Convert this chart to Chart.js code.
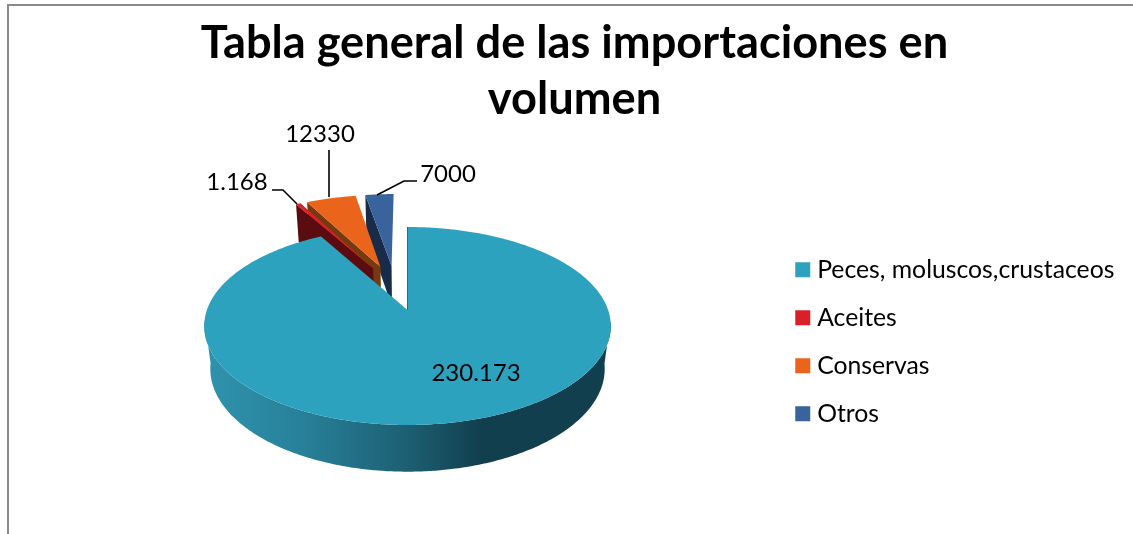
<!DOCTYPE html>
<html><head><meta charset="utf-8">
<style>html,body{margin:0;padding:0;background:#fff}canvas{display:block}</style>
<script src="https://cdn.jsdelivr.net/npm/chart.js@4"></script>
</head><body><canvas id="c" width="1133" height="534"></canvas>
<script>
const categories = ["Peces, moluscos,crustaceos", "Aceites", "Conservas", "Otros"];
const values = [230173, 1168, 12330, 7000];
const valueLabels = ["230.173", "1.168", "12330", "7000"];
const titleLines = ["Tabla general de las importaciones en", "volumen"];
const topColors = ["#2DA2BF", "#DA1F28", "#EB641B", "#39639D"];
const sideColors = ["#123F4E", "#5A0C10", "#753B0E", "#182C4A"];

const FONT = 'Lato, "Open Sans", sans-serif';
const P = {cx:407.5, cy:310, R:200.6, a:96.4, k:-0.1616, b:44, m:0.03, E:0.251};
function proj(u,v,z){const d=1+P.k*v+P.m*z;return [P.cx+P.R*u/d, P.cy+(P.a*v+P.b*z)/d];}
const theta = a => a+Math.PI/2;
const dir = t => [Math.sin(t), -Math.cos(t)];

function pathPts(ctx,pts){ctx.beginPath();pts.forEach((p,i)=>i?ctx.lineTo(p[0],p[1]):ctx.moveTo(p[0],p[1]));ctx.closePath();}

const pie3d = {
  id:'pie3d',
  afterLayout(chart){
    const l = chart.legend;
    const w = l.width;
    l.left = 777.5; l.right = l.left+w;
    l.top = 234; l.bottom = l.top+l.height;
  },
  beforeDraw(chart){
    const ctx = chart.ctx;
    ctx.save();
    ctx.fillStyle = '#8A8A8A';
    ctx.fillRect(7,4,1126,2);
    ctx.fillRect(7,4,2,530);
    ctx.restore();
  },
  beforeDatasetsDraw(chart){
    const ctx = chart.ctx;
    const arcs = chart.getDatasetMeta(0).data;
    const mid = e => (theta(e.startAngle)+theta(e.endAngle))/2;
    const main = dir(mid(arcs[0]));
    const slices = arcs.map((e,i)=>{
      const d = dir(mid(e));
      const o = i===0 ? [0,0] : [P.E*(d[0]-main[0]), P.E*(d[1]-main[1])];
      return {i, t0:theta(e.startAngle), t1:theta(e.endAngle), o};
    });
    const ring = (s,z,vMin)=>{
      const pts=[], n=Math.max(4,Math.ceil((s.t1-s.t0)/0.01));
      for(let j=0;j<=n;j++){
        const t=s.t0+(s.t1-s.t0)*j/n, d=dir(t);
        if(vMin===undefined || d[1]>=vMin) pts.push(proj(s.o[0]+d[0],s.o[1]+d[1],z));
      }
      return pts;
    };
    ctx.save();
    [3,2,1,0].forEach(idx=>{
      const s = slices[idx];
      let side = sideColors[idx];
      if(idx===0){
        const g = ctx.createLinearGradient(206,0,610,0);
        g.addColorStop(0,'#2F93AE');g.addColorStop(0.25,'#277F98');
        g.addColorStop(0.5,'#1C5F72');g.addColorStop(0.68,'#123F4E');g.addColorStop(1,'#123F4E');
        side = g;
      }
      ctx.fillStyle = side;
      // front-facing part of the outer wall
      const w0 = ring(s,0,0.1), w1 = ring(s,1,0.1);
      if(w0.length>1){ pathPts(ctx,w0.concat(w1.slice().reverse())); ctx.fill(); }
      // radial wall at the slice start
      const d0 = dir(s.t0);
      pathPts(ctx,[proj(s.o[0],s.o[1],0),proj(s.o[0]+d0[0],s.o[1]+d0[1],0),
                   proj(s.o[0]+d0[0],s.o[1]+d0[1],1),proj(s.o[0],s.o[1],1)]);
      ctx.fill();
      if(idx===0){ctx.strokeStyle='#123F4E';ctx.lineWidth=1;ctx.stroke();}
      // top face
      ctx.fillStyle = topColors[idx];
      pathPts(ctx,[proj(s.o[0],s.o[1],0)].concat(ring(s,0))); ctx.fill();
    });
    ctx.restore();
    return false;
  },
  afterDraw(chart){
    const ctx = chart.ctx;
    ctx.save();
    ctx.strokeStyle='#000';ctx.lineWidth=1.6;ctx.lineJoin='miter';
    [[[272,190],[283,190],[297,204]],
     [[329,150],[329,197]],
     [[417,181],[404,181],[377,195]]].forEach(l=>{
      ctx.beginPath();l.forEach((p,i)=>i?ctx.lineTo(p[0],p[1]):ctx.moveTo(p[0],p[1]));ctx.stroke();
    });
    ctx.fillStyle='#000';ctx.font='24px '+FONT;ctx.textAlign='center';ctx.textBaseline='middle';
    const pos=[[476,373],[237,182],[320,134],[448,174]];
    valueLabels.forEach((t,i)=>ctx.fillText(t,pos[i][0],pos[i][1]));
    ctx.restore();
  }
};

new Chart(document.getElementById('c'),{
  type:'pie',
  data:{labels:categories,datasets:[{data:values,backgroundColor:topColors,borderWidth:0}]},
  plugins:[pie3d],
  options:{
    responsive:false,animation:false,
    layout:{padding:{left:16,right:0,top:0,bottom:0}},
    plugins:{
      tooltip:{enabled:false},
      title:{display:true,text:titleLines,color:'#000',
        font:{family:FONT,size:45.2,weight:'bold',lineHeight:1.24},padding:{top:15,bottom:4}},
      legend:{position:'right',align:'start',
        labels:{color:'#000',font:{family:FONT,size:24.75},boxWidth:4,boxHeight:4,padding:23.25,
          generateLabels(chart){
            return categories.map((t,i)=>({text:t,fillStyle:topColors[i],strokeStyle:topColors[i],lineWidth:11,index:i,fontColor:'#000'}));
          }}}
    }
  }
});
</script></body></html>
